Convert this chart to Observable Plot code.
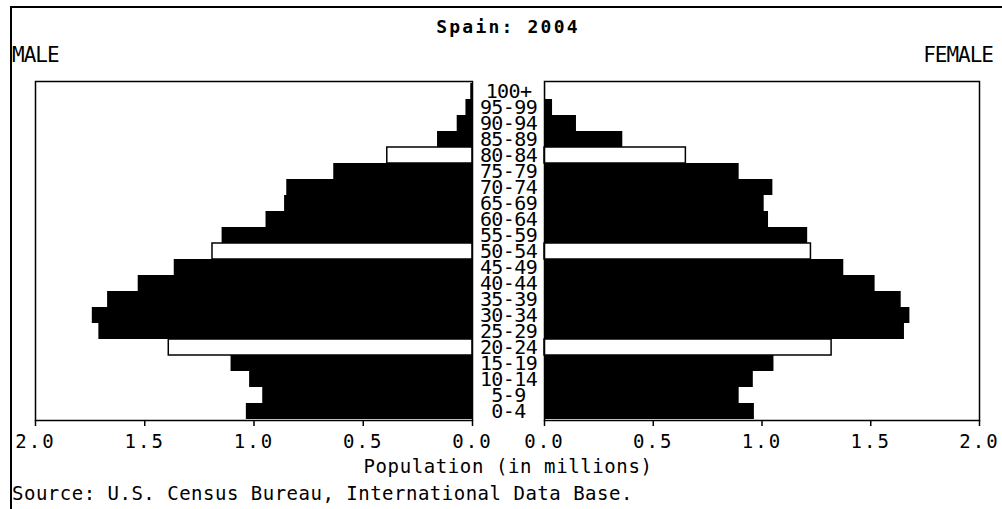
<!DOCTYPE html>
<html><head><meta charset="utf-8">
<script src="https://cdn.jsdelivr.net/npm/d3@7"></script>
<script src="https://cdn.jsdelivr.net/npm/@observablehq/plot@0.6"></script>
<style>
body{margin:0;background:#fff;}
#chart{position:relative;width:1002px;height:509px;overflow:hidden;font-family:"DejaVu Sans Mono",monospace;color:#000;background:#fff;}
#chart .abs{position:absolute;white-space:nowrap;line-height:1;}
#chart svg{position:absolute;top:0;}
#frame{position:absolute;left:10px;top:6px;width:1000px;height:520px;border-top:2px solid #000;border-left:2px solid #000;}
</style></head><body><div id="chart"><div id="frame"></div></div>
<script>
const title = "Spain: 2004";
const leftLabel = "MALE";
const rightLabel = "FEMALE";
const xLabel = "Population (in millions)";
const source = "Source: U.S. Census Bureau, International Data Base.";
const ageGroups = ["0-4","5-9","10-14","15-19","20-24","25-29","30-34","35-39","40-44","45-49","50-54","55-59","60-64","65-69","70-74","75-79","80-84","85-89","90-94","95-99","100+"];
const male   = [1.035,0.96,1.02,1.105,1.39,1.71,1.74,1.67,1.53,1.365,1.19,1.146,0.945,0.86,0.85,0.635,0.39,0.16,0.07,0.03,0.008];
const female = [0.965,0.895,0.96,1.055,1.32,1.655,1.68,1.64,1.52,1.376,1.225,1.21,1.03,1.01,1.05,0.895,0.65,0.36,0.147,0.037,0.005];
const highlighted = ["20-24","50-54","80-84"];
const xTicks = [0,0.5,1,1.5,2];

const rows = ageGroups.map((age,i)=>({age, male:male[i], female:female[i], hl:highlighted.includes(age)}));
const yDomain = ageGroups.slice().reverse();
const chart = document.getElementById("chart");
const FONT = '"DejaVu Sans Mono", monospace';

function panel(key, width, mL, mR, domain){
  return Plot.plot({
    width, height:509, marginTop:81, marginBottom:89, marginLeft:mL, marginRight:mR,
    x:{domain, ticks:xTicks},
    y:{domain:yDomain, padding:0, axis:null},
    style:{fontFamily:FONT, fontSize:"19px", background:"transparent", overflow:"visible", color:"black", letterSpacing:"2px"},
    marks:[
      Plot.barX(rows.filter(d=>!d.hl), {x:key, y:"age", fill:"black"}),
      Plot.barX(rows.filter(d=>d.hl), {x:key, y:"age", fill:"white", stroke:"black", strokeWidth:1.5}),
      Plot.frame({stroke:"black", strokeWidth:1.5}),
      Plot.axisX({ticks:xTicks, tickFormat:d3.format(".1f"), tickSize:6, tickPadding:8, stroke:"black", strokeWidth:1.5, label:null})
    ]
  });
}
const malePlot = panel("male", 500, 35, 28, [2,0]);
malePlot.style.left = "0px";
chart.appendChild(malePlot);
const femalePlot = panel("female", 502, 44, 23, [0,2]);
femalePlot.style.left = "500px";
chart.appendChild(femalePlot);

const labelPlot = Plot.plot({
  width:72, height:509, marginTop:81, marginBottom:89, marginLeft:0, marginRight:0,
  y:{domain:yDomain, padding:0, axis:null},
  style:{fontFamily:FONT, fontSize:"20px", background:"transparent", overflow:"visible", color:"black", letterSpacing:"-0.6px"},
  marks:[Plot.text(rows, {y:"age", text:"age", frameAnchor:"middle", fill:"black"})]
});
labelPlot.style.left = "472px";
chart.appendChild(labelPlot);

function addText(txt, css){
  const d = document.createElement("div");
  d.className = "abs";
  d.textContent = txt;
  Object.assign(d.style, css);
  chart.appendChild(d);
  return d;
}
addText(title, {left:"0px", width:"1016px", textAlign:"center", top:"18px", fontSize:"18px", fontWeight:"bold", letterSpacing:"2.2px"});
addText(leftLabel, {left:"12px", top:"45px", fontSize:"21px", letterSpacing:"-1px"});
addText(rightLabel, {right:"9px", top:"45px", fontSize:"21px", letterSpacing:"-1px"});
addText(xLabel, {left:"0px", width:"1016px", textAlign:"center", top:"457px", fontSize:"19px", letterSpacing:"0.6px"});
addText(source, {left:"12px", top:"484px", fontSize:"19px", letterSpacing:"0.5px"});
</script></body></html>
